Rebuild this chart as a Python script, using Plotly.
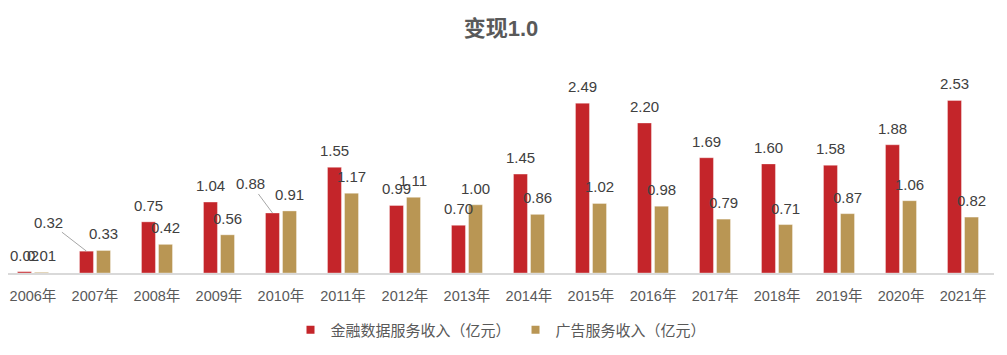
import plotly.graph_objects as go

years = ["2006年", "2007年", "2008年", "2009年", "2010年", "2011年", "2012年", "2013年",
         "2014年", "2015年", "2016年", "2017年", "2018年", "2019年", "2020年", "2021年"]
finance = [0.02, 0.32, 0.75, 1.04, 0.88, 1.55, 0.99, 0.70,
           1.45, 2.49, 2.20, 1.69, 1.60, 1.58, 1.88, 2.53]
ads = [0.01, 0.33, 0.42, 0.56, 0.91, 1.17, 1.11, 1.00,
       0.86, 1.02, 0.98, 0.79, 0.71, 0.87, 1.06, 0.82]
name_fin = "金融数据服务收入（亿元）"
name_ads = "广告服务收入（亿元）"
title = "变现1.0"

RED = "#C4252A"
GOLD = "#B99654"
FONT = "Arial, 'Liberation Sans', 'Noto Sans CJK SC', sans-serif"

fig = go.Figure()
fig.add_trace(go.Bar(x=years, y=finance, name=name_fin, marker_color=RED,
                     marker_line=dict(width=0.8, color="rgba(255,255,255,0.45)"),
                     showlegend=False))
fig.add_trace(go.Bar(x=years, y=ads, name=name_ads, marker_color=GOLD,
                     marker_line=dict(width=0.8, color="rgba(255,255,255,0.45)"),
                     showlegend=False))
# legend proxies with small square markers
fig.add_trace(go.Scatter(x=[None], y=[None], mode="markers", name=name_fin,
                         marker=dict(symbol="square", size=8, color=RED)))
fig.add_trace(go.Scatter(x=[None], y=[None], mode="markers", name=name_ads,
                         marker=dict(symbol="square", size=8, color=GOLD)))

# leader-line labels: (series index, year index) -> (ax, ay)
leaders = {(0, 1): (-37.5, -29), (0, 4): (-21.5, -29)}

annotations = []
for si, (vals, dx) in enumerate([(finance, -8.5), (ads, 8.5)]):
    for i, v in enumerate(vals):
        if (si, i) in leaders:
            ax, ay = leaders[(si, i)]
            annotations.append(dict(
                x=years[i], y=v, xref="x", yref="y", text=f"{v:.2f}",
                showarrow=True, arrowhead=0, arrowwidth=1, arrowcolor="#A6A6A6",
                ax=ax, ay=ay, standoff=0, xshift=dx,
                font=dict(size=15, color="#404040", family=FONT)))
        else:
            annotations.append(dict(
                x=years[i], y=v, xref="x", yref="y", text=f"{v:.2f}",
                showarrow=False, xshift=dx, yshift=6, yanchor="bottom",
                font=dict(size=15, color="#404040", family=FONT)))

fig.update_layout(
    width=999, height=347,
    margin=dict(l=0, r=13, t=52, b=82),
    paper_bgcolor="white", plot_bgcolor="white",
    barmode="group", bargap=0.45, bargroupgap=0.18,
    title=dict(text=f"<b>{title}</b>", x=0.5, xref="paper", xanchor="center",
               y=1 - 20 / 347, yanchor="middle",
               font=dict(size=22, color="#595959", family=FONT)),
    font=dict(family=FONT, color="#595959"),
    legend=dict(orientation="h", x=0.5, xanchor="center", y=-0.268, yanchor="middle",
                font=dict(size=15, color="#595959", family=FONT),
                itemwidth=30, tracegroupgap=0),
    annotations=annotations,
    showlegend=True,
)
fig.update_xaxes(showline=True, linecolor="#D9D9D9", linewidth=1.5, ticks="",
                 ticklabelstandoff=9, range=[-0.403, 15.5],
                 tickfont=dict(size=14.5, color="#595959", family=FONT),
                 showgrid=False, zeroline=False)
fig.update_yaxes(range=[0, 213 / 68.2], visible=False, showgrid=False, zeroline=False)

fig.write_html("out.html")
